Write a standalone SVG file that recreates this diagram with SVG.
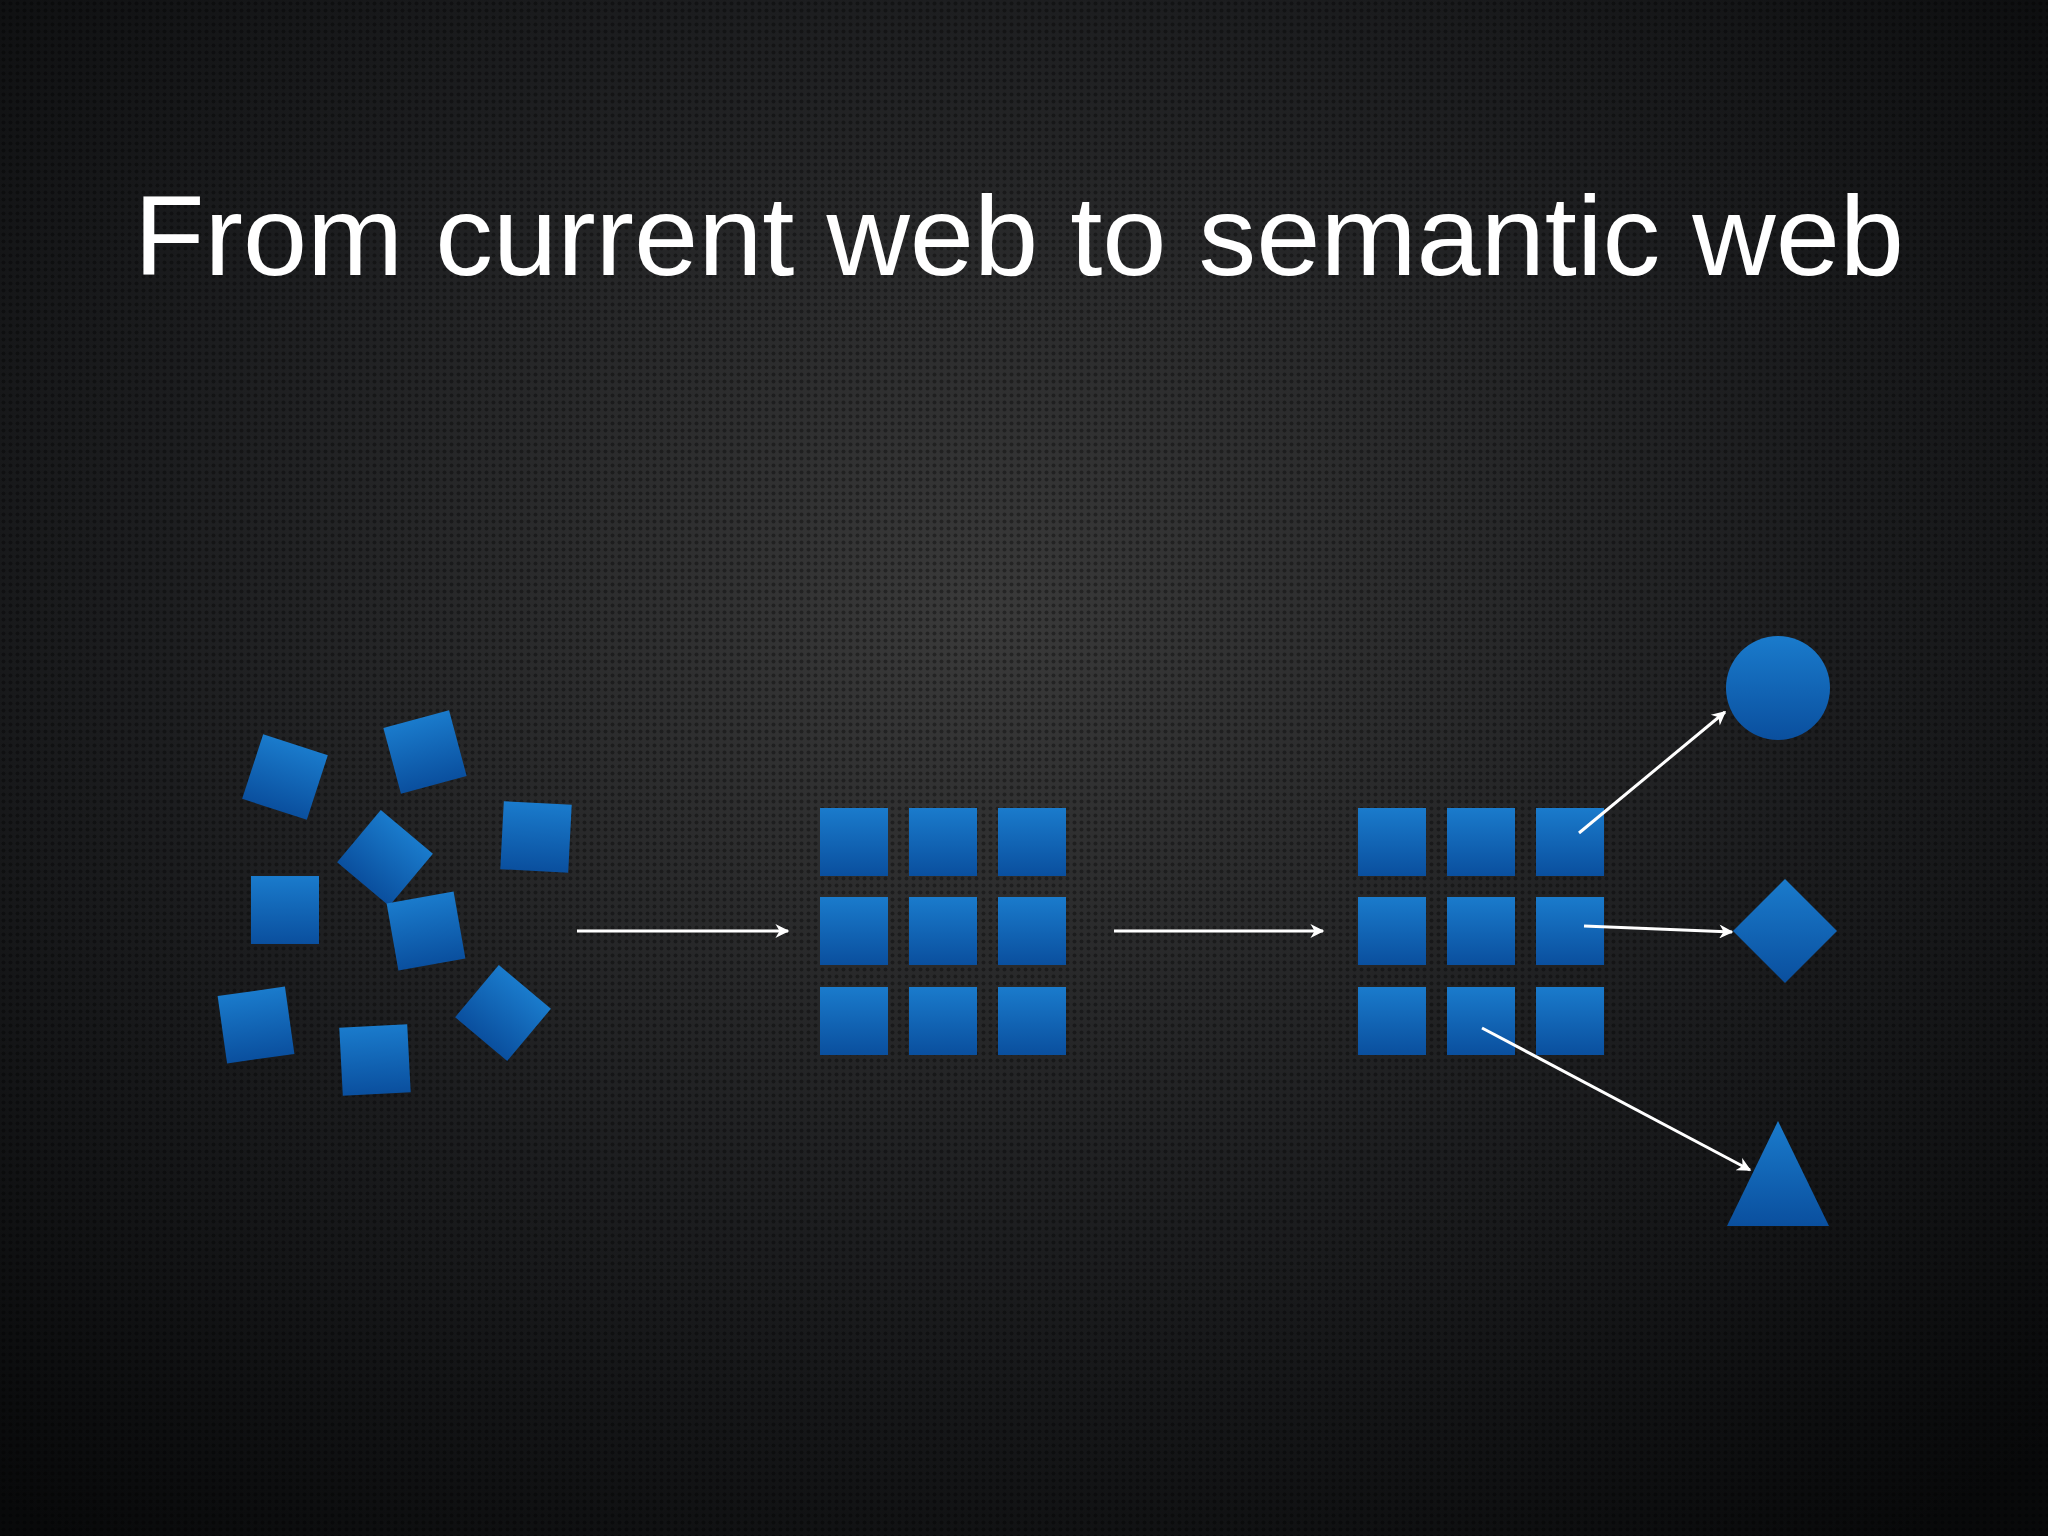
<svg xmlns="http://www.w3.org/2000/svg" width="2048" height="1536" viewBox="0 0 2048 1536">
<defs>
<radialGradient id="bg" cx="0.48" cy="0.4" r="0.75">
<stop offset="0" stop-color="#3a3a3a"/><stop offset="0.55" stop-color="#1c1d1f"/><stop offset="1" stop-color="#08090a"/>
</radialGradient>
<pattern id="dots" width="7" height="7" patternUnits="userSpaceOnUse">
<circle cx="3.5" cy="3.5" r="2" fill="#000" fill-opacity="0.35"/>
</pattern>
<linearGradient id="blueO" gradientUnits="objectBoundingBox" x1="0" y1="0" x2="0" y2="1">
<stop offset="0" stop-color="#1a7bcc"/><stop offset="1" stop-color="#0a4f9e"/>
</linearGradient>
<marker id="ah" viewBox="0 0 10 10" refX="9" refY="5" markerWidth="16" markerHeight="14" orient="auto" markerUnits="userSpaceOnUse">
<path d="M0,0 L10,5 L0,10 L3,5 z" fill="#fff"/>
</marker>
<rect id="sq" x="-34" y="-34" width="68" height="68" fill="url(#blueO)"/>
</defs>
<style>
.t{font-family:"Liberation Sans",Arial,sans-serif;fill:#fff;font-size:114px}
.c{stroke:#fff;stroke-width:3;fill:none;marker-end:url(#ah)}
.s{fill:url(#blueO)}
</style>
<rect width="2048" height="1536" fill="url(#bg)"/>
<rect width="2048" height="1536" fill="url(#dots)"/>
<text class="t" x="134" y="275" textLength="1770" lengthAdjust="spacingAndGlyphs">From current web to semantic web</text>
<g id="scattered">
<use href="#sq" transform="translate(285,777) rotate(18)"/>
<use href="#sq" transform="translate(425,752) rotate(-15)"/>
<use href="#sq" transform="translate(385,858) rotate(40)"/>
<use href="#sq" transform="translate(536,837) rotate(3)"/>
<use href="#sq" transform="translate(285,910)"/>
<use href="#sq" transform="translate(426,931) rotate(-10)"/>
<use href="#sq" transform="translate(256,1025) rotate(-8)"/>
<use href="#sq" transform="translate(375,1060) rotate(-3)"/>
<use href="#sq" transform="translate(503,1013) rotate(40)"/>
</g>
<g id="grid-middle">
<rect class="s" x="820" y="808" width="68" height="68"/><rect class="s" x="909" y="808" width="68" height="68"/><rect class="s" x="998" y="808" width="68" height="68"/>
<rect class="s" x="820" y="897" width="68" height="68"/><rect class="s" x="909" y="897" width="68" height="68"/><rect class="s" x="998" y="897" width="68" height="68"/>
<rect class="s" x="820" y="987" width="68" height="68"/><rect class="s" x="909" y="987" width="68" height="68"/><rect class="s" x="998" y="987" width="68" height="68"/>
</g>
<g id="grid-right">
<rect class="s" x="1358" y="808" width="68" height="68"/><rect class="s" x="1447" y="808" width="68" height="68"/><rect class="s" x="1536" y="808" width="68" height="68"/>
<rect class="s" x="1358" y="897" width="68" height="68"/><rect class="s" x="1447" y="897" width="68" height="68"/><rect class="s" x="1536" y="897" width="68" height="68"/>
<rect class="s" x="1358" y="987" width="68" height="68"/><rect class="s" x="1447" y="987" width="68" height="68"/><rect class="s" x="1536" y="987" width="68" height="68"/>
</g>
<g id="circle"><circle cx="1778" cy="688" r="52" fill="url(#blueO)"/></g>
<g id="diamond"><polygon points="1785,879 1837,931 1785,983 1733,931" fill="url(#blueO)"/></g>
<g id="triangle"><polygon points="1778,1121 1829,1226 1727,1226" fill="url(#blueO)"/></g>
<g id="connectors">
<line class="c" x1="577" y1="931" x2="788" y2="931"/>
<line class="c" x1="1114" y1="931" x2="1323" y2="931"/>
<line class="c" x1="1579" y1="833" x2="1725" y2="712"/>
<line class="c" x1="1584" y1="926" x2="1732" y2="932"/>
<line class="c" x1="1482" y1="1028" x2="1750" y2="1170"/>
</g>
</svg>
